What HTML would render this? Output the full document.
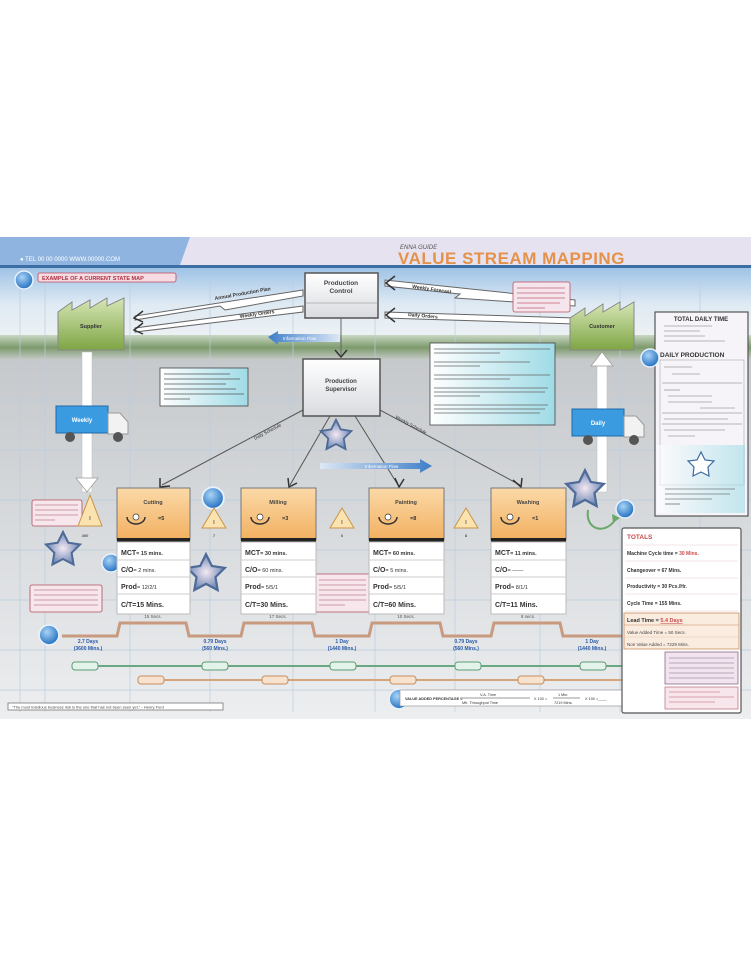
<!DOCTYPE html>
<html><head><meta charset="utf-8"><style>
html,body{margin:0;padding:0;background:#fff;width:751px;height:960px;overflow:hidden}
svg{display:block;font-family:"Liberation Sans",sans-serif}
</style></head><body>
<svg width="751" height="960" viewBox="0 0 751 960" xmlns="http://www.w3.org/2000/svg">
<defs>
<linearGradient id="sky" x1="0" y1="0" x2="0" y2="1">
<stop offset="0" stop-color="#9fc3e6"/><stop offset="0.5" stop-color="#dfeaf3"/><stop offset="1" stop-color="#eef2f4"/></linearGradient>
<linearGradient id="hill" x1="0" y1="0" x2="0" y2="1">
<stop offset="0" stop-color="#c9d8c4"/><stop offset="0.5" stop-color="#7d9a6c"/><stop offset="1" stop-color="#c8cccc"/></linearGradient>
<linearGradient id="ground" x1="0" y1="0" x2="0" y2="1">
<stop offset="0" stop-color="#c6c9cc"/><stop offset="1" stop-color="#eceef0"/></linearGradient>
<linearGradient id="fact" x1="0" y1="0" x2="0" y2="1">
<stop offset="0" stop-color="#d7e6b6"/><stop offset="1" stop-color="#7ea544"/></linearGradient>
<linearGradient id="box" x1="0" y1="0" x2="0" y2="1">
<stop offset="0" stop-color="#ffffff"/><stop offset="1" stop-color="#d9dbdf"/></linearGradient>
<linearGradient id="orange" x1="0" y1="0" x2="0" y2="1">
<stop offset="0" stop-color="#fbd9a8"/><stop offset="1" stop-color="#f2b060"/></linearGradient>
<linearGradient id="arrowb" x1="0" y1="0" x2="1" y2="0">
<stop offset="0" stop-color="#dce8f5"/><stop offset="1" stop-color="#3f7ec8"/></linearGradient>
<linearGradient id="arrowbl" x1="1" y1="0" x2="0" y2="0">
<stop offset="0" stop-color="#dce8f5"/><stop offset="1" stop-color="#3f7ec8"/></linearGradient>
<linearGradient id="note" x1="0" y1="0" x2="1" y2="0">
<stop offset="0" stop-color="#fff"/><stop offset="1" stop-color="#9fdbe6"/></linearGradient>
<radialGradient id="star" cx="0.5" cy="0.5" r="0.5">
<stop offset="0" stop-color="#f4e8f2"/><stop offset="1" stop-color="#6d87b4"/></radialGradient>
<radialGradient id="circ" cx="0.4" cy="0.35" r="0.6">
<stop offset="0" stop-color="#a8d4f5"/><stop offset="1" stop-color="#2f78c6"/></radialGradient>
<symbol id="st" viewBox="-20 -20 40 40"><polygon points="0,-18 5.3,-7.3 17.1,-5.6 8.6,2.8 10.6,14.6 0,9 -10.6,14.6 -8.6,2.8 -17.1,-5.6 -5.3,-7.3" fill="url(#star)" stroke="#4d6a98" stroke-width="2"/></symbol>
<symbol id="ci" viewBox="-10 -10 20 20"><circle r="9" fill="url(#circ)" stroke="#e8f2fb" stroke-width="1.5"/></symbol>
</defs>

<!-- poster background -->
<rect x="0" y="237" width="751" height="482" fill="#e4e6ea"/>
<rect x="0" y="268" width="751" height="72" fill="url(#sky)"/>
<rect x="0" y="335" width="751" height="25" fill="url(#hill)"/>
<rect x="0" y="360" width="751" height="359" fill="url(#ground)"/>
<!-- grid -->
<g stroke="#b9cde0" stroke-width="0.7">
<line x1="20" y1="280" x2="20" y2="712"/><line x1="45" y1="280" x2="45" y2="712"/>
<line x1="130" y1="280" x2="130" y2="712"/><line x1="210" y1="280" x2="210" y2="712"/>
<line x1="293" y1="280" x2="293" y2="712"/><line x1="375" y1="280" x2="375" y2="712"/>
<line x1="455" y1="280" x2="455" y2="712"/><line x1="540" y1="280" x2="540" y2="712"/>
<line x1="620" y1="280" x2="620" y2="712"/><line x1="700" y1="280" x2="700" y2="712"/>
<line x1="0" y1="400" x2="751" y2="400"/><line x1="0" y1="450" x2="751" y2="450"/>
<line x1="0" y1="500" x2="751" y2="500"/><line x1="0" y1="550" x2="751" y2="550"/>
<line x1="0" y1="600" x2="751" y2="600"/><line x1="0" y1="650" x2="751" y2="650"/>
<line x1="0" y1="690" x2="751" y2="690"/>
</g>

<!-- header -->
<rect x="0" y="237" width="751" height="31" fill="#e7e2f0"/>
<polygon points="0,237 190,237 180,265 0,265" fill="#8fb4e0"/>
<rect x="0" y="265" width="751" height="3" fill="#3e6ea6"/>
<text x="20" y="261" font-size="6" fill="#fff">● TEL 00 00 0000   WWW.00000.COM</text>
<text x="400" y="249" font-size="6" font-style="italic" fill="#555">ENNA GUIDE</text>
<text x="398" y="264" font-size="17" font-weight="bold" fill="#e4924a" letter-spacing="0.5">VALUE STREAM MAPPING</text>

<!-- example label -->
<use href="#ci" x="14" y="270" width="20" height="20"/>
<rect x="38" y="273" width="138" height="9" fill="#f6dbe3" stroke="#c04a5a" stroke-width="0.8" rx="2"/>
<text x="42" y="280" font-size="5.5" font-weight="bold" fill="#b03040">EXAMPLE OF A CURRENT STATE MAP</text>

<!-- production control -->
<rect x="305" y="273" width="73" height="45" fill="url(#box)" stroke="#555" stroke-width="1.5"/>
<text x="341" y="285" font-size="6.5" font-weight="bold" text-anchor="middle" fill="#444">Production</text>
<text x="341" y="293" font-size="6.5" font-weight="bold" text-anchor="middle" fill="#444">Control</text>
<line x1="305" y1="303" x2="378" y2="303" stroke="#888" stroke-width="0.6"/>

<!-- info arrows top -->
<g stroke="#666" stroke-width="1" fill="#fff">
<polygon points="303,290 135,316 135,320 220,306 225,310 303,296"/>
<polygon points="303,306 135,328 135,332 303,312"/>
<polygon points="575,300 385,280 385,286 460,294 455,298 575,306"/>
<polygon points="575,318 385,312 385,318 575,324"/>
</g>
<g stroke="#333" stroke-width="1.5" fill="none">
<polyline points="143,311 134,318 143,322"/><polyline points="143,323 134,330 143,334"/>
<polyline points="395,276 386,283 395,290"/><polyline points="395,308 386,315 395,322"/>
</g>
<text x="215" y="300" font-size="5" font-weight="bold" fill="#333" transform="rotate(-10 215 300)">Annual Production Plan</text>
<text x="240" y="318" font-size="5" font-weight="bold" fill="#333" transform="rotate(-8 240 318)">Weekly Orders</text>
<text x="412" y="288" font-size="5" font-weight="bold" fill="#333" transform="rotate(8 412 288)">Weekly Forecast</text>
<text x="408" y="316" font-size="5" font-weight="bold" fill="#333" transform="rotate(5 408 316)">Daily Orders</text>

<!-- information flow arrow left -->
<polygon points="268,337 278,331 278,334 340,334 340,342 278,342 278,345" fill="url(#arrowbl)"/>
<text x="283" y="340" font-size="4.5" fill="#fff">Information Flow</text>

<!-- supplier -->
<polygon points="58,350 58,312 72,302 72,310 90,300 90,308 107,298 107,306 124,298 124,350" fill="url(#fact)" stroke="#888" stroke-width="1"/>
<text x="91" y="328" font-size="5.5" font-weight="bold" text-anchor="middle" fill="#333">Supplier</text>
<!-- customer -->
<polygon points="570,350 570,318 585,308 585,316 603,304 603,312 620,302 620,310 634,302 634,350" fill="url(#fact)" stroke="#888" stroke-width="1"/>
<text x="602" y="328" font-size="5.5" font-weight="bold" text-anchor="middle" fill="#333">Customer</text>
<rect x="513" y="282" width="57" height="30" fill="#f5e6ee" stroke="#c05060" stroke-width="0.8" rx="2"/>
<g stroke="#c06070" stroke-width="0.8"><line x1="517" y1="288" x2="565" y2="288"/><line x1="517" y1="293" x2="565" y2="293"/><line x1="517" y1="298" x2="565" y2="298"/><line x1="517" y1="303" x2="560" y2="303"/><line x1="517" y1="308" x2="545" y2="308"/></g>

<!-- vertical white arrows -->
<rect x="82" y="352" width="10" height="140" fill="#fff" stroke="#bbb" stroke-width="0.5"/>
<polygon points="76,478 98,478 87,492" fill="#fff" stroke="#999" stroke-width="0.7"/>
<rect x="597" y="362" width="10" height="130" fill="#fff" stroke="#bbb" stroke-width="0.5"/>
<polygon points="591,366 613,366 602,352" fill="#fff" stroke="#999" stroke-width="0.7"/>

<!-- trucks -->
<g>
<rect x="56" y="406" width="52" height="27" fill="#3a9be0" stroke="#1d6aa8"/>
<polygon points="108,413 120,413 128,422 128,434 108,434" fill="#f2f2f2" stroke="#999"/>
<circle cx="70" cy="437" r="5" fill="#555"/><circle cx="118" cy="437" r="5" fill="#555"/>
<text x="82" y="422" font-size="6" font-weight="bold" fill="#fff" text-anchor="middle">Weekly</text>
</g>
<g>
<rect x="572" y="409" width="52" height="27" fill="#3a9be0" stroke="#1d6aa8"/>
<polygon points="624,416 636,416 644,425 644,437 624,437" fill="#f2f2f2" stroke="#999"/>
<circle cx="588" cy="440" r="5" fill="#555"/><circle cx="634" cy="440" r="5" fill="#555"/>
<text x="598" y="425" font-size="6" font-weight="bold" fill="#fff" text-anchor="middle">Daily</text>
</g>

<!-- note boxes -->
<rect x="160" y="368" width="88" height="38" fill="url(#note)" stroke="#444" stroke-width="0.8"/>
<g stroke="#555" stroke-width="0.7"><line x1="164" y1="374" x2="230" y2="374"/><line x1="164" y1="379" x2="240" y2="379"/><line x1="164" y1="384" x2="226" y2="384"/><line x1="164" y1="389" x2="236" y2="389"/><line x1="164" y1="394" x2="244" y2="394"/><line x1="164" y1="399" x2="190" y2="399"/></g>
<rect x="430" y="343" width="125" height="82" fill="url(#note)" stroke="#444" stroke-width="0.8"/>
<g stroke="#666" stroke-width="0.7">
<line x1="434" y1="349" x2="550" y2="349"/><line x1="434" y1="353" x2="500" y2="353"/>
<line x1="434" y1="362" x2="530" y2="362"/><line x1="434" y1="366" x2="480" y2="366"/>
<line x1="434" y1="375" x2="550" y2="375"/><line x1="434" y1="379" x2="510" y2="379"/>
<line x1="434" y1="388" x2="548" y2="388"/><line x1="434" y1="392" x2="545" y2="392"/><line x1="434" y1="396" x2="480" y2="396"/>
<line x1="434" y1="405" x2="548" y2="405"/><line x1="434" y1="409" x2="545" y2="409"/><line x1="434" y1="413" x2="540" y2="413"/>
</g>

<!-- production supervisor -->
<line x1="341" y1="318" x2="341" y2="355" stroke="#666" stroke-width="1"/>
<polyline points="335,350 341,357 347,350" fill="none" stroke="#333" stroke-width="1.5"/>
<rect x="303" y="359" width="77" height="57" fill="url(#box)" stroke="#555" stroke-width="1.5"/>
<text x="341" y="383" font-size="6" font-weight="bold" text-anchor="middle" fill="#444">Production</text>
<text x="341" y="391" font-size="6" font-weight="bold" text-anchor="middle" fill="#444">Supervisor</text>

<!-- schedule lines -->
<g stroke="#555" stroke-width="1">
<line x1="303" y1="410" x2="162" y2="485"/>
<line x1="330" y1="416" x2="290" y2="485"/>
<line x1="355" y1="416" x2="398" y2="485"/>
<line x1="380" y1="410" x2="520" y2="485"/>
</g>
<g stroke="#333" stroke-width="1.5" fill="none">
<polyline points="160,478 160,487 170,486"/><polyline points="288,478 289,487 297,483"/>
<polyline points="395,478 399,487 404,479"/><polyline points="513,480 521,487 522,478"/>
</g>
<text x="255" y="440" font-size="4.5" fill="#333" transform="rotate(-28 255 440)">Daily Schedule</text>
<text x="395" y="418" font-size="4.5" fill="#333" transform="rotate(28 395 418)">Weekly Schedule</text>
<use href="#st" x="318" y="418" width="36" height="36"/>
<!-- information flow right -->
<polygon points="320,463 420,463 420,459 432,466 420,473 420,469 320,469" fill="url(#arrowb)"/>
<text x="365" y="468" font-size="4.5" fill="#fff">Information Flow</text>

<!-- right panel -->
<rect x="655" y="312" width="93" height="204" fill="#f6f4f8" stroke="#555" stroke-width="1.2"/>
<text x="701" y="321" font-size="6" font-weight="bold" text-anchor="middle" fill="#333">TOTAL DAILY TIME</text>
<g stroke="#777" stroke-width="0.6"><line x1="664" y1="326" x2="712" y2="326"/><line x1="664" y1="331" x2="700" y2="331"/><line x1="664" y1="336" x2="705" y2="336"/><line x1="664" y1="341" x2="725" y2="341"/></g>
<use href="#ci" x="640" y="348" width="20" height="20"/>
<text x="660" y="357" font-size="6.5" font-weight="bold" fill="#333">DAILY PRODUCTION</text>
<rect x="660" y="360" width="84" height="125" fill="none" stroke="#999" stroke-width="0.5"/>
<g stroke="#777" stroke-width="0.6"><line x1="664" y1="367" x2="692" y2="367"/><line x1="672" y1="374" x2="700" y2="374"/>
<line x1="662" y1="383" x2="742" y2="383"/><line x1="664" y1="390" x2="680" y2="390"/><line x1="668" y1="396" x2="712" y2="396"/><line x1="668" y1="402" x2="712" y2="402"/><line x1="700" y1="408" x2="735" y2="408"/>
<line x1="662" y1="413" x2="742" y2="413"/><line x1="664" y1="419" x2="728" y2="419"/><line x1="662" y1="424" x2="742" y2="424"/><line x1="664" y1="430" x2="725" y2="430"/><line x1="668" y1="436" x2="695" y2="436"/></g>
<rect x="657" y="445" width="88" height="68" fill="url(#note)" opacity="0.6"/>
<polygon points="701,452 705,460 714,461 708,467 709,476 701,472 693,476 694,467 688,461 697,460" fill="#fff" stroke="#3d6b9e" stroke-width="1.2"/>
<g stroke="#444" stroke-width="0.6"><line x1="665" y1="489" x2="735" y2="489"/><line x1="665" y1="494" x2="730" y2="494"/><line x1="665" y1="499" x2="712" y2="499"/><line x1="665" y1="504" x2="680" y2="504"/></g>

<!-- left notes and stars -->
<rect x="32" y="500" width="50" height="26" fill="#f7e6ec" stroke="#b05060" stroke-width="0.8" rx="2"/>
<g stroke="#a05060" stroke-width="0.6"><line x1="35" y1="505" x2="78" y2="505"/><line x1="35" y1="510" x2="78" y2="510"/><line x1="35" y1="515" x2="78" y2="515"/><line x1="35" y1="520" x2="55" y2="520"/></g>
<rect x="30" y="585" width="72" height="27" fill="#f7e6ec" stroke="#b05060" stroke-width="0.8" rx="2"/>
<g stroke="#a05060" stroke-width="0.6"><line x1="34" y1="590" x2="98" y2="590"/><line x1="34" y1="595" x2="98" y2="595"/><line x1="34" y1="600" x2="98" y2="600"/><line x1="34" y1="605" x2="98" y2="605"/></g>
<use href="#st" x="43" y="530" width="40" height="40"/>
<use href="#st" x="184" y="552" width="44" height="44"/>
<use href="#st" x="563" y="468" width="44" height="44"/>
<use href="#ci" x="101" y="553" width="20" height="20"/>
<use href="#ci" x="201" y="486" width="24" height="24"/>
<use href="#ci" x="615" y="499" width="20" height="20"/>
<use href="#ci" x="38" y="624" width="22" height="22"/>
<use href="#ci" x="388" y="688" width="22" height="22"/>
<path d="M588,510 C585,530 605,535 615,520" fill="none" stroke="#6aa86a" stroke-width="2"/>
<polygon points="612,514 620,518 613,523" fill="#6aa86a"/>
<rect x="315" y="574" width="56" height="38" fill="#f7e6ec" stroke="#b05060" stroke-width="0.8" rx="2"/>
<g stroke="#a05060" stroke-width="0.6"><line x1="319" y1="580" x2="366" y2="580"/><line x1="319" y1="585" x2="366" y2="585"/><line x1="319" y1="590" x2="366" y2="590"/><line x1="319" y1="595" x2="366" y2="595"/><line x1="319" y1="600" x2="366" y2="600"/><line x1="319" y1="605" x2="345" y2="605"/></g>

<!-- inventory triangles -->
<g fill="#fbe3b0" stroke="#c9954a" stroke-width="1">
<polygon points="90,495 78,526 102,526"/><polygon points="214,508 202,528 226,528"/>
<polygon points="342,508 330,528 354,528"/><polygon points="466,508 454,528 478,528"/>
</g>
<g font-size="5" text-anchor="middle" fill="#555" font-weight="bold">
<text x="90" y="520">I</text><text x="214" y="524">I</text><text x="342" y="524">I</text><text x="466" y="524">I</text>
<text x="85" y="537" font-size="4">400</text><text x="214" y="537" font-size="4">7</text><text x="342" y="537" font-size="4">6</text><text x="466" y="537" font-size="4">8</text>
</g>

<!-- process boxes -->
<g id="p">
</g>
<g font-size="5.5">
<!-- Cutting -->
<rect x="117" y="488" width="73" height="52" fill="url(#orange)" stroke="#777"/>
<rect x="117" y="538" width="73" height="4" fill="#222"/>
<text x="153" y="504" text-anchor="middle" font-weight="bold" fill="#444">Cutting</text>
<path d="M127,517 a9,7 0 0 0 18,0" fill="none" stroke="#333" stroke-width="1.5"/><circle cx="136" cy="517" r="3" fill="#fff" stroke="#333" stroke-width="0.7"/>
<text x="158" y="520" font-weight="bold" fill="#333">=5</text>
<rect x="117" y="542" width="73" height="72" fill="#fff" stroke="#bbb"/>
<g stroke="#ccc"><line x1="117" y1="560" x2="190" y2="560"/><line x1="117" y1="577" x2="190" y2="577"/><line x1="117" y1="594" x2="190" y2="594"/></g>
<text x="121" y="555" font-weight="bold" fill="#333"><tspan font-size="7">MCT</tspan>= 15 mins.</text>
<text x="121" y="572" fill="#333"><tspan font-size="7" font-weight="bold">C/O</tspan>=   2 mins.</text>
<text x="121" y="589" fill="#333"><tspan font-size="7" font-weight="bold">Prod</tspan>= 12/2/1</text>
<text x="121" y="607" font-size="7" font-weight="bold" fill="#333">C/T=15 Mins.</text>
<!-- Milling -->
<rect x="241" y="488" width="75" height="52" fill="url(#orange)" stroke="#777"/>
<rect x="241" y="538" width="75" height="4" fill="#222"/>
<text x="278" y="504" text-anchor="middle" font-weight="bold" fill="#444">Milling</text>
<path d="M251,517 a9,7 0 0 0 18,0" fill="none" stroke="#333" stroke-width="1.5"/><circle cx="260" cy="517" r="3" fill="#fff" stroke="#333" stroke-width="0.7"/>
<text x="282" y="520" font-weight="bold" fill="#333">=3</text>
<rect x="241" y="542" width="75" height="72" fill="#fff" stroke="#bbb"/>
<g stroke="#ccc"><line x1="241" y1="560" x2="316" y2="560"/><line x1="241" y1="577" x2="316" y2="577"/><line x1="241" y1="594" x2="316" y2="594"/></g>
<text x="245" y="555" font-weight="bold" fill="#333"><tspan font-size="7">MCT</tspan>= 30 mins.</text>
<text x="245" y="572" fill="#333"><tspan font-size="7" font-weight="bold">C/O</tspan>=   60 mins.</text>
<text x="245" y="589" fill="#333"><tspan font-size="7" font-weight="bold">Prod</tspan>= 5/5/1</text>
<text x="245" y="607" font-size="7" font-weight="bold" fill="#333">C/T=30 Mins.</text>
<!-- Painting -->
<rect x="369" y="488" width="75" height="52" fill="url(#orange)" stroke="#777"/>
<rect x="369" y="538" width="75" height="4" fill="#222"/>
<text x="406" y="504" text-anchor="middle" font-weight="bold" fill="#444">Painting</text>
<path d="M379,517 a9,7 0 0 0 18,0" fill="none" stroke="#333" stroke-width="1.5"/><circle cx="388" cy="517" r="3" fill="#fff" stroke="#333" stroke-width="0.7"/>
<text x="410" y="520" font-weight="bold" fill="#333">=8</text>
<rect x="369" y="542" width="75" height="72" fill="#fff" stroke="#bbb"/>
<g stroke="#ccc"><line x1="369" y1="560" x2="444" y2="560"/><line x1="369" y1="577" x2="444" y2="577"/><line x1="369" y1="594" x2="444" y2="594"/></g>
<text x="373" y="555" font-weight="bold" fill="#333"><tspan font-size="7">MCT</tspan>= 60 mins.</text>
<text x="373" y="572" fill="#333"><tspan font-size="7" font-weight="bold">C/O</tspan>=   5 mins.</text>
<text x="373" y="589" fill="#333"><tspan font-size="7" font-weight="bold">Prod</tspan>= 5/5/1</text>
<text x="373" y="607" font-size="7" font-weight="bold" fill="#333">C/T=60 Mins.</text>
<!-- Washing -->
<rect x="491" y="488" width="75" height="52" fill="url(#orange)" stroke="#777"/>
<rect x="491" y="538" width="75" height="4" fill="#222"/>
<text x="528" y="504" text-anchor="middle" font-weight="bold" fill="#444">Washing</text>
<path d="M501,517 a9,7 0 0 0 18,0" fill="none" stroke="#333" stroke-width="1.5"/><circle cx="510" cy="517" r="3" fill="#fff" stroke="#333" stroke-width="0.7"/>
<text x="532" y="520" font-weight="bold" fill="#333">=1</text>
<rect x="491" y="542" width="75" height="72" fill="#fff" stroke="#bbb"/>
<g stroke="#ccc"><line x1="491" y1="560" x2="566" y2="560"/><line x1="491" y1="577" x2="566" y2="577"/><line x1="491" y1="594" x2="566" y2="594"/></g>
<text x="495" y="555" font-weight="bold" fill="#333"><tspan font-size="7">MCT</tspan>= 11 mins.</text>
<text x="495" y="572" fill="#333"><tspan font-size="7" font-weight="bold">C/O</tspan>=   ——</text>
<text x="495" y="589" fill="#333"><tspan font-size="7" font-weight="bold">Prod</tspan>= 8/1/1</text>
<text x="495" y="607" font-size="7" font-weight="bold" fill="#333">C/T=11 Mins.</text>
</g>

<!-- timeline -->
<polyline points="62,636 117,636 120,623 186,623 189,636 241,636 244,623 312,623 315,636 369,636 372,623 440,623 443,636 491,636 494,623 560,623 563,636 622,636" fill="none" stroke="#c89a80" stroke-width="3"/>
<g font-size="4.5" fill="#555" text-anchor="middle"><text x="153" y="618">15 Secs.</text><text x="278" y="618">17 Secs.</text><text x="406" y="618">10 Secs.</text><text x="528" y="618">8 secs.</text></g>
<g font-size="5" fill="#2a5aa8" text-anchor="middle" font-weight="bold">
<text x="88" y="643">2.7 Days</text><text x="88" y="650">(3600 Mins.)</text>
<text x="215" y="643">0.79 Days</text><text x="215" y="650">(560 Mins.)</text>
<text x="342" y="643">1 Day</text><text x="342" y="650">(1440 Mins.)</text>
<text x="466" y="643">0.79 Days</text><text x="466" y="650">(560 Mins.)</text>
<text x="592" y="643">1 Day</text><text x="592" y="650">(1440 Mins.)</text>
</g>
<line x1="75" y1="666" x2="640" y2="666" stroke="#6aa883" stroke-width="2"/>
<line x1="140" y1="680" x2="640" y2="680" stroke="#d4a47c" stroke-width="2"/>
<g fill="#e4f3ea" stroke="#5d9c75" stroke-width="1">
<rect x="72" y="662" width="26" height="8" rx="3"/><rect x="202" y="662" width="26" height="8" rx="3"/><rect x="330" y="662" width="26" height="8" rx="3"/>
<rect x="455" y="662" width="26" height="8" rx="3"/><rect x="580" y="662" width="26" height="8" rx="3"/><rect x="625" y="662" width="24" height="8" rx="3"/></g>
<g fill="#f6e2cf" stroke="#c88e5e" stroke-width="1">
<rect x="138" y="676" width="26" height="8" rx="3"/><rect x="262" y="676" width="26" height="8" rx="3"/>
<rect x="390" y="676" width="26" height="8" rx="3"/><rect x="518" y="676" width="26" height="8" rx="3"/><rect x="625" y="676" width="24" height="8" rx="3"/></g>

<!-- value added bar -->
<rect x="400" y="690" width="222" height="16" fill="#fff" stroke="#999" stroke-width="0.7"/>
<text x="405" y="700" font-size="3.8" font-weight="bold" fill="#333">VALUE ADDED PERCENTAGE =</text>
<text x="480" y="696" font-size="3.8" fill="#333">V.A. Time</text>
<line x1="460" y1="698" x2="530" y2="698" stroke="#333" stroke-width="0.5"/>
<text x="462" y="704" font-size="3.8" fill="#333">Mfr. Throughput Time</text>
<text x="534" y="700" font-size="3.8" fill="#333">X 100 =</text>
<text x="558" y="696" font-size="3.8" fill="#333">1 Min.</text>
<line x1="553" y1="698" x2="580" y2="698" stroke="#333" stroke-width="0.5"/>
<text x="554" y="704" font-size="3.8" fill="#333">7219 Mins.</text>
<text x="585" y="700" font-size="3.8" fill="#333">X 100 =____</text>

<!-- quote -->
<rect x="8" y="703" width="215" height="7" fill="#fff" stroke="#777" stroke-width="0.8"/>
<text x="12" y="708.5" font-size="4" fill="#444">"The most insidious business risk is the one that has not been seen yet." - Henry Ford</text>

<!-- totals -->
<rect x="622" y="528" width="119" height="185" fill="#fff" stroke="#555" stroke-width="1.2" rx="2"/>
<text x="627" y="539" font-size="6.5" font-weight="bold" fill="#c94a4a">TOTALS</text>
<g stroke="#e3c9c9" stroke-width="0.6">
<line x1="625" y1="545" x2="738" y2="545"/><line x1="625" y1="561" x2="738" y2="561"/><line x1="625" y1="578" x2="738" y2="578"/>
<line x1="625" y1="594" x2="738" y2="594"/><line x1="625" y1="611" x2="738" y2="611"/></g>
<g font-size="5" font-weight="bold" fill="#333">
<text x="627" y="555">Machine Cycle time = <tspan fill="#c94a4a">30 Mins.</tspan></text>
<text x="627" y="572">Changeover = 67 Mins.</text>
<text x="627" y="588">Productivity = 30 Pcs./Hr.</text>
<text x="627" y="605">Cycle Time = 155 Mins.</text>
</g>
<rect x="624" y="613" width="115" height="36" fill="#fbece0" stroke="#c88e5e" stroke-width="0.8"/>
<line x1="624" y1="625" x2="739" y2="625" stroke="#c88e5e" stroke-width="0.6"/>
<line x1="624" y1="637" x2="739" y2="637" stroke="#e0c8b4" stroke-width="0.6"/>
<text x="627" y="622" font-size="5.5" font-weight="bold" fill="#333">Lead Time = <tspan fill="#c94a4a" text-decoration="underline">5.4 Days</tspan></text>
<text x="627" y="634" font-size="4.5" fill="#444">Value Added Time = 50 Secs.</text>
<text x="627" y="646" font-size="4.5" fill="#444">Non Value Added = 7229 Mins.</text>
<rect x="665" y="652" width="73" height="32" fill="#f2e4ee" stroke="#8a6a8a" stroke-width="0.8"/>
<g stroke="#7a6a8a" stroke-width="0.6"><line x1="669" y1="658" x2="734" y2="658"/><line x1="669" y1="663" x2="734" y2="663"/><line x1="669" y1="668" x2="734" y2="668"/><line x1="669" y1="673" x2="734" y2="673"/><line x1="669" y1="678" x2="734" y2="678"/></g>
<rect x="665" y="687" width="73" height="22" fill="#f7e6ec" stroke="#b05060" stroke-width="0.6"/>
<g stroke="#c06070" stroke-width="0.6"><line x1="669" y1="692" x2="720" y2="692"/><line x1="669" y1="697" x2="734" y2="697"/><line x1="669" y1="702" x2="715" y2="702"/></g>
</svg>
</body></html>
